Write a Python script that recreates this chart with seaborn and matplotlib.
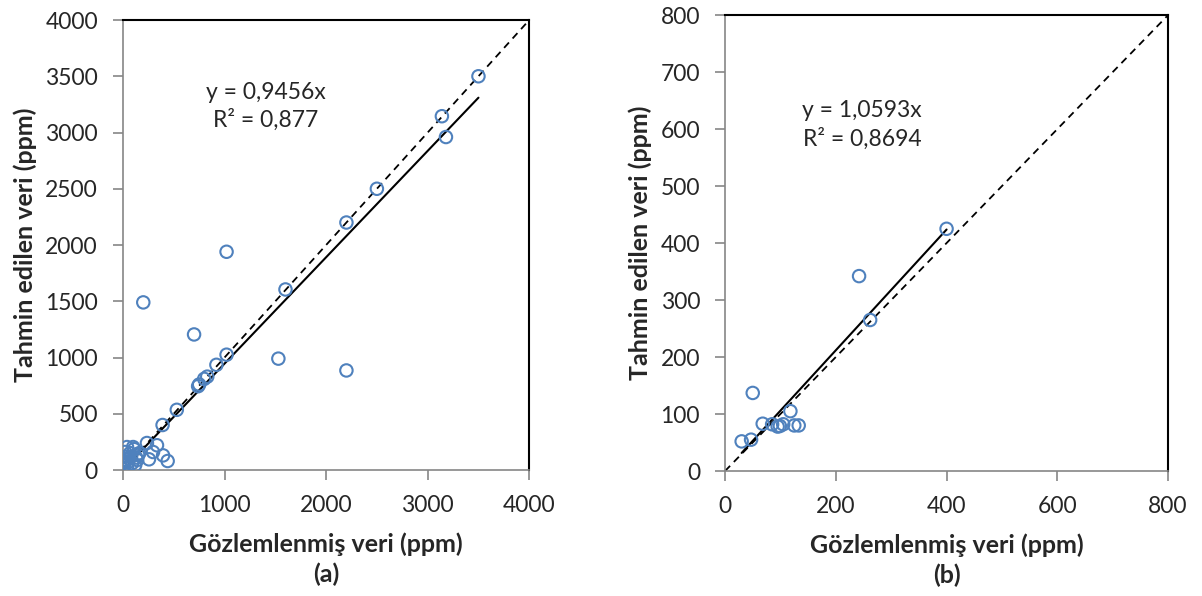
import numpy as np
import pandas as pd
import matplotlib
matplotlib.use("Agg")
import matplotlib.pyplot as plt
import seaborn as sns

# panel (a) observed / predicted values (ppm)
obs_a = [3500, 3140, 3180, 2500, 2200, 1020, 200, 1600, 700, 1020, 920, 1530, 2200,
         830, 800, 750, 740, 530, 390, 236, 335, 296, 395, 256, 440,
         40, 100, 20, 70, 150, 110, 20, 20, 140, 120, 40, 5, 60, 80, 30, 90, 50, 10, 130, 160]
pred_a = [3500, 3145, 2960, 2500, 2200, 1940, 1490, 1605, 1205, 1025, 935, 990, 885,
          830, 810, 760, 745, 535, 400, 240, 220, 160, 130, 95, 80,
          204, 204, 160, 150, 133, 185, 116, 71, 89, 44, 27, 62, 100, 120, 90, 60, 70, 40, 110, 150]

# panel (b)
obs_b = [400, 242, 262, 50, 118, 68, 85, 95, 105, 125, 133, 30, 47, 99]
pred_b = [425, 342, 265, 137, 105, 83, 82, 78, 82, 80, 80, 52, 55, 79]

slope_a, r2_a = 0.9456, "0,877"
slope_b, r2_b = 1.0593, "0,8694"

sns.set_theme(style="white")
plt.rcParams["font.family"] = ["Lato", "DejaVu Sans"]

fig = plt.figure(figsize=(12.02, 5.96), dpi=100)
ax_a = fig.add_axes([0.1023, 0.2114, 0.3380, 0.755])
ax_b = fig.add_axes([0.6032, 0.2097, 0.3686, 0.765])

blue = "#4F81BD"
gray = "#868686"


def draw_panel(ax, obs, pred, slope, r2, lim, step, xstep, txt_xy, letter):
    df = pd.DataFrame({"obs": obs, "pred": pred})
    sns.scatterplot(data=df, x="obs", y="pred", ax=ax, marker="o", s=80,
                    facecolor="none", edgecolor=blue, linewidth=1.5, zorder=3)
    # 1:1 line
    ax.plot([0, lim], [0, lim], color="black", ls=(0, (4, 3)), lw=1.3, zorder=2)
    # fitted line through origin
    xs = np.array([min(obs), max(obs)])
    ax.plot(xs, slope * xs, color="black", lw=1.5, zorder=2)
    ax.set_xlim(0, lim)
    ax.set_ylim(0, lim)
    ax.set_xticks(np.arange(0, lim + 1, xstep))
    ax.set_yticks(np.arange(0, lim + 1, step))
    for side in ["left", "bottom"]:
        ax.spines[side].set_color(gray)
        ax.spines[side].set_linewidth(1.2)
    for side in ["top", "right"]:
        ax.spines[side].set_color("black")
        ax.spines[side].set_linewidth(1.5)
    ax.tick_params(axis="both", which="major", direction="out", length=7, width=1.2,
                   color=gray, labelsize=16.5, bottom=True, left=True)
    ax.tick_params(axis="x", pad=11)
    ax.tick_params(axis="y", pad=11)
    ax.set_xlabel(f"Gözlemlenmiş veri (ppm)\n{letter}",
                  fontsize=18, fontweight="bold", labelpad=12, linespacing=1.3)
    ax.set_ylabel("Tahmin edilen veri (ppm)", fontsize=18, fontweight="bold", labelpad=6)
    slope_txt = f"{slope:.4f}".replace(".", ",")
    ax.text(txt_xy[0], txt_xy[1], f"y = {slope_txt}x\nR² = {r2}", ha="center", va="center",
            fontsize=16.5, linespacing=1.35)


draw_panel(ax_a, obs_a, pred_a, slope_a, r2_a, 4000, 500, 1000, (1409, 3231), "(a)")
draw_panel(ax_b, obs_b, pred_b, slope_b, r2_b, 800, 100, 200, (247, 607), "(b)")

fig.savefig("out.png", dpi=100)
